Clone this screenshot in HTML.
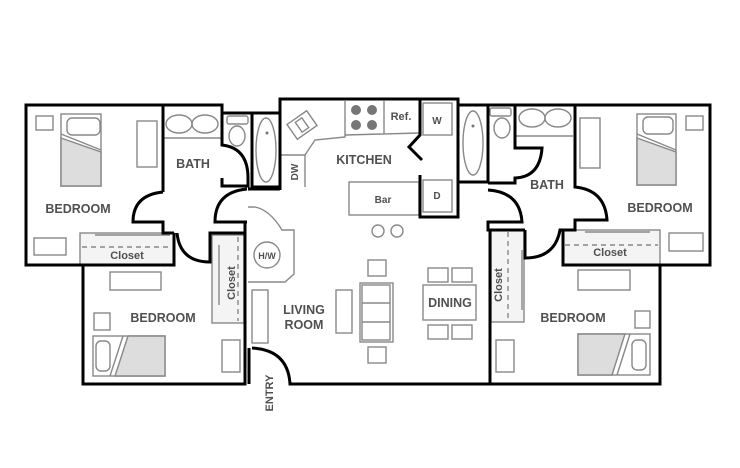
<!DOCTYPE html>
<html><head><meta charset="utf-8"><style>
html,body{margin:0;padding:0;background:#fff;width:740px;height:468px;overflow:hidden}
svg{display:block}
text{font-family:"Liberation Sans",sans-serif;fill:#505050;font-weight:bold}
</style></head><body>
<svg width="740" height="468" viewBox="0 0 740 468">
<g fill="none" stroke="#888" stroke-width="1.4">
<rect x="80" y="233" width="94" height="32" fill="#f4f4f4"/>
<rect x="563" y="230" width="97" height="35" fill="#f4f4f4"/>
<rect x="212" y="235" width="32" height="88" fill="#f4f4f4"/>
<rect x="491" y="230" width="33" height="92" fill="#f4f4f4"/>
<line x1="82" y1="247" x2="172" y2="247" stroke-dasharray="5,4"/>
<line x1="565" y1="245" x2="658" y2="245" stroke-dasharray="5,4"/>
<line x1="238" y1="237" x2="238" y2="321" stroke-dasharray="5,4"/>
<line x1="508" y1="232" x2="508" y2="320" stroke-dasharray="5,4"/>
<line x1="95" y1="235" x2="170" y2="235"/><line x1="219" y1="245" x2="219" y2="305"/>
<line x1="585" y1="232" x2="650" y2="232"/><line x1="522" y1="250" x2="522" y2="310"/>
<rect x="36" y="116" width="17" height="14"/>
<rect x="61" y="114" width="40" height="72"/>
<polygon points="61,138 101,152 101,186 61,186" fill="#ddd"/>
<line x1="61" y1="134" x2="101" y2="150"/>
<rect x="67" y="118" width="33" height="17" rx="5"/>
<rect x="137" y="121" width="20" height="46"/>
<rect x="34" y="238" width="32" height="17"/>
<ellipse cx="179" cy="124" rx="13" ry="9"/><ellipse cx="205" cy="124" rx="13" ry="9"/>
<line x1="163" y1="138" x2="222" y2="138"/>
<rect x="227" y="116" width="21" height="8" rx="2"/><ellipse cx="237" cy="136" rx="8" ry="10"/>
<ellipse cx="266" cy="150" rx="10" ry="32"/>
<line x1="280" y1="155" x2="305" y2="155"/><line x1="305" y1="155" x2="305" y2="187"/>
<polyline points="305,155 315,140 345,137 345,101"/>
<line x1="345" y1="135" x2="419" y2="133"/>
<line x1="384" y1="101" x2="384" y2="134"/>
<g transform="rotate(-35 302 125)"><rect x="290" y="116" width="24" height="18"/><rect x="298" y="119" width="8" height="12"/></g>
<rect x="423" y="103" width="29" height="32"/><rect x="423" y="180" width="29" height="32"/>
<rect x="349" y="182" width="70" height="33"/>
<circle cx="378" cy="231" r="6"/><circle cx="397" cy="231" r="6"/>
<path d="M248,207 L255,207 Q270,210 282,230 H294 V274 L285,282 H248"/>
<circle cx="267" cy="255" r="13"/>
<rect x="252" y="290" width="16" height="53"/>
<rect x="336" y="290" width="16" height="43"/>
<rect x="360" y="283" width="33" height="59"/>
<line x1="362" y1="303" x2="390" y2="303"/><line x1="362" y1="322" x2="390" y2="322"/>
<rect x="362" y="285" width="28" height="55"/>
<rect x="368" y="260" width="18" height="16"/><rect x="368" y="347" width="18" height="16"/>
<rect x="423" y="285" width="53" height="35"/>
<rect x="428" y="268" width="20" height="14"/><rect x="452" y="268" width="20" height="14"/>
<rect x="428" y="325" width="20" height="14"/><rect x="452" y="325" width="20" height="14"/>
<rect x="110" y="272" width="51" height="18"/><rect x="94" y="313" width="16" height="17"/>
<rect x="93" y="336" width="72" height="40"/>
<polygon points="128,336 165,336 165,376 115,376" fill="#ddd"/>
<line x1="123" y1="336" x2="110" y2="376"/>
<rect x="96" y="341" width="14" height="30" rx="5"/>
<rect x="222" y="340" width="18" height="32"/>
<ellipse cx="473" cy="143" rx="10" ry="32"/>
<rect x="490" y="108" width="21" height="8" rx="2"/><ellipse cx="502" cy="128" rx="8" ry="10"/>
<ellipse cx="532" cy="118" rx="13" ry="9"/><ellipse cx="558" cy="118" rx="13" ry="9"/>
<line x1="515" y1="136" x2="573" y2="136"/>
<rect x="580" y="118" width="20" height="50"/>
<rect x="637" y="114" width="39" height="71"/>
<polygon points="637,138 676,152 676,185 637,185" fill="#ddd"/>
<line x1="637" y1="134" x2="676" y2="150"/>
<rect x="643" y="117" width="30" height="17" rx="5"/>
<rect x="686" y="116" width="17" height="14"/>
<rect x="669" y="233" width="34" height="18"/>
<rect x="578" y="270" width="52" height="20"/><rect x="635" y="311" width="15" height="17"/>
<rect x="578" y="334" width="72" height="41"/>
<polygon points="578,334 625,334 612,375 578,375" fill="#ddd"/>
<line x1="630" y1="334" x2="617" y2="375"/>
<rect x="632" y="340" width="14" height="30" rx="5"/>
<rect x="496" y="340" width="18" height="32"/>
</g>
<g fill="#777">
<circle cx="356" cy="110" r="5"/><circle cx="372" cy="110" r="5"/><circle cx="356" cy="125" r="5"/><circle cx="372" cy="125" r="5"/>
<circle cx="267" cy="133" r="1.5"/><circle cx="473" cy="126" r="1.5"/>
</g>
<g fill="none" stroke="#000" stroke-width="3">
<path d="M163,192 V105 H26 V265 H174 V233"/>
<path d="M163,192 Q133,195 133,222 H163 V233 H174"/>
<path d="M163,105 H222 V145 Q248,148 248,178 V186 H222 V178"/>
<path d="M222,113 H280 V187 H252 V113"/>
<path d="M248,189 H280"/>
<path d="M247,189 Q215,192 215,222 H247"/>
<path d="M177,233 Q180,262 210,262 V233 H245"/>
<path d="M83,265 V384 H245 V222"/>
<path d="M249,348 V384"/>
<path d="M252,348 Q288,350 290,384 H490"/>
<path d="M280,190 V99 H458 V217 H420 V175"/>
<path d="M420,99 V135 L409,147 L422,160"/>
<path d="M458,105 H710 V265 H660 V384 H490 V230"/>
<path d="M488,105 V182 H458"/>
<path d="M488,190 Q520,192 522,222 H488 V230 H525"/>
<path d="M515,105 V148 H542 Q540,177 515,178 V183 H488"/>
<path d="M525,230 V258 Q555,258 560,230 H575"/>
<path d="M575,105 V187 Q605,190 607,220 H575 V230 H563 V265 H660"/>
</g>
<g font-size="12.5" text-anchor="middle">
<text x="78" y="213">BEDROOM</text>
<text x="193" y="168">BATH</text>
<text x="163" y="322">BEDROOM</text>
<text x="364" y="164">KITCHEN</text>
<text x="304" y="314">LIVING</text>
<text x="304" y="329">ROOM</text>
<text x="450" y="307">DINING</text>
<text x="547" y="189">BATH</text>
<text x="660" y="212">BEDROOM</text>
<text x="573" y="322">BEDROOM</text>
</g>
<g font-size="11" text-anchor="middle">
<text x="127" y="259">Closet</text>
<text x="610" y="256">Closet</text>
<text x="401" y="120" font-size="11">Ref.</text>
<text x="383" y="203" font-size="10">Bar</text>
<text x="437" y="124" font-size="10">W</text>
<text x="437" y="199" font-size="10">D</text>
<text x="267" y="259" font-size="9">H/W</text>
<text transform="translate(235,283) rotate(-90)">Closet</text>
<text transform="translate(502,285) rotate(-90)">Closet</text>
<text transform="translate(298,172) rotate(-90)" font-size="10">DW</text>
<text transform="translate(273,393) rotate(-90)" font-size="11">ENTRY</text>
</g>
</svg>
</body></html>
